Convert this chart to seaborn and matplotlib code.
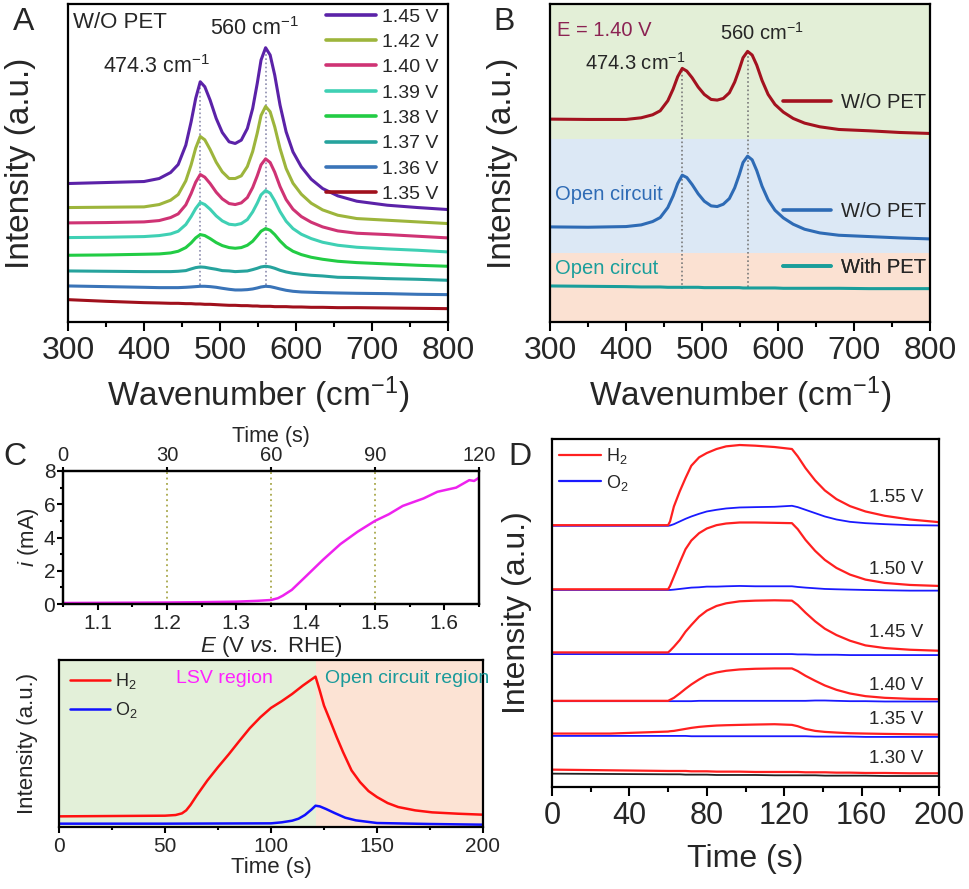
import numpy as np
import pandas as pd
import matplotlib
matplotlib.use("Agg")
import matplotlib.pyplot as plt
import seaborn as sns
from matplotlib.lines import Line2D
from matplotlib.ticker import MultipleLocator

sns.set_style("ticks")
plt.rcParams['font.family'] = ['Liberation Sans', 'DejaVu Sans']
plt.rcParams['mathtext.fontset'] = 'custom'
plt.rcParams['mathtext.rm'] = 'Liberation Sans'
plt.rcParams['mathtext.it'] = 'Liberation Sans:italic'
plt.rcParams['axes.linewidth'] = 1.6
plt.rcParams['axes.edgecolor'] = 'black'

# ---------------- Panel A data ----------------
wavenumber = [300, 350, 400, 420, 435, 445, 455, 462, 468, 474, 480, 487, 495, 503, 512, 520, 528, 536,
              543, 549, 554, 560, 566, 572, 579, 587, 596, 607, 620, 635, 655, 680, 720, 760, 800]
potentials_A = ["1.45 V", "1.42 V", "1.40 V", "1.39 V", "1.38 V", "1.37 V", "1.36 V", "1.35 V"]
colors_A = ["#5b22a8", "#9db53c", "#cf3374", "#3fd0b4", "#22cc44", "#26a39d", "#3a74b8", "#a0101c"]
int_145 = [415, 418, 421, 430, 448, 472, 530, 600, 670, 720, 705, 665, 610, 568, 540, 535, 545, 580,
           640, 715, 785, 822, 800, 740, 650, 570, 510, 465, 428, 400, 378, 362, 350, 343, 337]
int_142 = [343, 344, 345, 352, 365, 382, 423, 471, 521, 556, 546, 517, 479, 450, 430, 430, 438, 466,
           511, 566, 619, 646, 630, 585, 520, 460, 416, 383, 356, 336, 320, 310, 305, 300, 295]
int_140 = [297, 298, 300, 304, 313, 324, 351, 385, 419, 442, 434, 415, 389, 369, 355, 352, 357, 373,
           403, 438, 471, 489, 478, 449, 406, 367, 338, 316, 299, 285, 273, 266, 262, 257, 252]
int_139 = [253, 254, 256, 259, 264, 272, 292, 316, 340, 358, 352, 338, 318, 303, 293, 291, 295, 307,
           330, 356, 381, 394, 386, 363, 331, 302, 280, 263, 250, 239, 230, 224, 219, 215, 210]
int_138 = [200, 201, 203, 204, 207, 212, 223, 237, 252, 262, 259, 250, 238, 229, 223, 221, 223, 230,
           242, 258, 272, 280, 275, 262, 243, 225, 212, 202, 194, 188, 182, 178, 174, 170, 167]
int_137 = [153, 152, 151, 151, 151, 152, 154, 159, 163, 165, 164, 161, 158, 154, 153, 151, 152, 153,
           157, 161, 165, 167, 165, 161, 155, 150, 146, 143, 140, 138, 134, 133, 130, 128, 125]
int_136 = [108, 106, 104, 103, 103, 103, 104, 105, 106, 107, 107, 106, 104, 101, 98, 96, 96, 97,
           99, 102, 105, 107, 106, 103, 99, 95, 92, 90, 89, 88, 87, 86, 85, 83, 82]
int_135 = [67, 62, 58, 57, 56, 56, 55, 55, 54, 54, 53, 53, 52, 51, 50, 50, 49, 49,
           48, 48, 47, 47, 47, 46, 46, 46, 45, 45, 44, 44, 43, 43, 42, 41, 40]
peaks = [474.3, 560]
peak_line_bottom_A = [110, 110]
peak_line_top_A = [718, 820]

# ---------------- Panel B data ----------------
series_B = ["W/O PET (E=1.40 V)", "W/O PET (open circuit)", "With PET (open circuit)"]
colors_B = ["#a3121f", "#2e6bb5", "#1a9e9b"]
labels_B = ["W/O PET", "W/O PET", "With PET"]
int_B_red = [608, 607, 607, 612, 621, 633, 663, 698, 735, 760, 752, 732, 704, 682, 667, 665, 670, 687,
             719, 757, 792, 811, 800, 770, 724, 682, 652, 629, 610, 596, 585, 577, 573, 568, 565]
int_B_blue = [285, 284, 286, 291, 301, 313, 343, 378, 415, 440, 433, 412, 384, 362, 348, 346, 353, 370,
              402, 441, 478, 497, 486, 454, 407, 366, 335, 312, 293, 278, 267, 260, 256, 252, 249]
int_B_teal = [108, 107, 106, 105, 105, 105, 104, 104, 104, 104, 104, 104, 104, 103, 103, 103, 103, 103,
              103, 103, 102, 102, 102, 102, 102, 102, 102, 101, 101, 101, 101, 101, 100, 100, 100]
band_edges_B = [0, 208, 547, 953]
band_colors_B = ["#fbe1d2", "#dce8f5", "#e3efd7"]
peak_line_bottom_B = [100, 105]
peak_line_top_B = [760, 811]

# ---------------- Panel C data ----------------
E_lsv = [1.05, 1.10, 1.15, 1.20, 1.25, 1.30, 1.33, 1.35, 1.36, 1.367, 1.38, 1.39, 1.40, 1.425,
         1.45, 1.475, 1.50, 1.52, 1.54, 1.57, 1.59, 1.617, 1.636, 1.643, 1.65]
i_lsv = [0.06, 0.07, 0.08, 0.09, 0.11, 0.14, 0.19, 0.24, 0.35, 0.5, 0.85, 1.25, 1.65, 2.66,
         3.6, 4.35, 5.0, 5.4, 5.9, 6.35, 6.75, 7.0, 7.45, 7.4, 7.6]
E_return = [1.35, 1.65, 1.65]
i_return = [0.0, 0.0, 7.6]
E_marks = [1.2, 1.35, 1.5]

t_C_H2 = [0, 50, 55, 58, 60, 62, 65, 70, 75, 80, 85, 90, 95, 100, 105, 110, 115, 121,
          123, 125, 128, 131, 134, 138, 142, 146, 150, 155, 160, 168, 176, 188, 200]
H2_C = [32, 34, 36, 41, 50, 66, 95, 140, 180, 218, 258, 297, 330, 358, 378, 400, 425, 452,
        410, 365, 318, 270, 225, 170, 135, 108, 90, 72, 60, 50, 44, 40, 37]
t_C_O2 = [0, 50, 100, 105, 110, 113, 116, 119, 121, 123, 126, 130, 135, 140, 150, 175, 200]
O2_C = [10, 10, 11, 14, 19, 25, 36, 52, 64, 62, 54, 42, 28, 20, 12, 9, 7]
region_edges_C = [0, 121, 200]
region_colors_C = ["#e3f0d9", "#fce3d4"]

# ---------------- Panel D data ----------------
t_D = [0, 30, 60, 61, 63, 66, 69, 72, 76, 80, 85, 90, 97, 105, 115, 124,
       127, 131, 136, 141, 147, 154, 162, 172, 185, 200]
H2_155 = [784, 784, 784, 795, 840, 885, 925, 962, 987, 1000, 1012, 1020, 1024, 1022, 1018, 1012,
          990, 955, 918, 888, 862, 841, 825, 812, 801, 793]
O2_155 = [782, 782, 782, 783, 787, 795, 803, 810, 818, 825, 830, 834, 837, 838, 839, 842,
          838, 830, 820, 810, 801, 794, 790, 787, 784, 783]
H2_150 = [592, 592, 592, 602, 630, 672, 712, 738, 760, 774, 784, 789, 792, 792, 791, 790,
          772, 740, 707, 680, 656, 636, 621, 611, 605, 602]
O2_150 = [590, 590, 590, 590, 591, 593, 595, 597, 598, 600, 600, 601, 602, 601, 601, 601,
          599, 597, 595, 593, 592, 591, 590, 589, 588, 588]
H2_145 = [403, 403, 403, 408, 420, 440, 465, 485, 510, 528, 542, 550, 556, 558, 559, 558,
          545, 522, 496, 474, 455, 438, 424, 416, 411, 408]
O2_145 = [398, 398, 398, 398, 398, 398, 398, 398, 398, 398, 398, 398, 398, 398, 398, 398,
          397, 397, 396, 396, 396, 395, 395, 395, 395, 395]
H2_140 = [258, 258, 258, 261, 267, 280, 294, 307, 322, 335, 343, 348, 352, 354, 355, 355,
          347, 333, 318, 304, 291, 280, 272, 267, 264, 263]
O2_140 = [257, 257, 257, 257, 257, 257, 257, 257, 258, 258, 258, 258, 258, 258, 258, 258,
          258, 258, 259, 259, 258, 257, 257, 256, 256, 256]
H2_135 = [160, 160, 166, 167, 168, 171, 174, 177, 180, 182, 184, 185, 186, 187, 188, 186,
          182, 174, 168, 165, 163, 161, 160, 159, 158, 157]
O2_135 = [153, 153, 153, 153, 153, 153, 153, 152, 152, 152, 152, 152, 152, 152, 152, 152,
          152, 152, 151, 151, 151, 151, 150, 150, 150, 150]
H2_130 = [52, 50, 48, 48, 48, 48, 48, 47, 47, 47, 46, 46, 46, 45, 45, 45,
          45, 44, 44, 44, 43, 43, 42, 42, 41, 41]
BG_130 = [40, 39, 38, 38, 38, 38, 37, 37, 37, 37, 36, 36, 36, 36, 35, 35,
          35, 35, 35, 34, 34, 34, 34, 33, 33, 33]
potentials_D = ["1.55 V", "1.50 V", "1.45 V", "1.40 V", "1.35 V", "1.30 V"]
label_y_D = [0.833, 0.624, 0.443, 0.293, 0.195, 0.083]

# ---------------- Figure ----------------
W, H = 969, 889
fig = plt.figure(figsize=(W / 100, H / 100), dpi=100)


def rect(l, t, r, b):
    return [l / W, 1 - b / H, (r - l) / W, (b - t) / H]


def style_ticks(ax, which_axis, labelsize, major_len=6, minor_len=3):
    ax.tick_params(axis=which_axis, which='major', direction='out', length=major_len, width=1.5,
                   labelsize=labelsize, color='black')
    ax.tick_params(axis=which_axis, which='minor', direction='out', length=minor_len, width=1.5,
                   color='black')


# ---------- Panel A ----------
axA = fig.add_axes(rect(68, 4, 448, 322))
A_vals = [int_145, int_142, int_140, int_139, int_138, int_137, int_136, int_135]
dfA = pd.concat([pd.DataFrame({"wn": wavenumber, "I": v, "V": p}) for v, p in zip(A_vals, potentials_A)])
axA.vlines(peaks, peak_line_bottom_A, peak_line_top_A, colors="#8c8cae", linestyles=(0, (1, 1.5)), lw=1.2, zorder=1)
sns.lineplot(data=dfA[::-1], x="wn", y="I", hue="V", hue_order=potentials_A,
             palette=dict(zip(potentials_A, colors_A)), estimator=None, sort=False,
             lw=2.2, ax=axA, legend=False)
axA.set_xlim(300, 800)
axA.set_ylim(0, 953)
axA.set_yticks([])
axA.xaxis.set_major_locator(MultipleLocator(100))
axA.xaxis.set_minor_locator(MultipleLocator(50))
style_ticks(axA, 'x', 23, major_len=6.5, minor_len=3.5)
axA.set_xlabel("Wavenumber (cm$^{-1}$)", fontsize=24)
axA.set_ylabel("Intensity (a.u.)", fontsize=24)
axA.yaxis.set_label_coords(-0.085, 0.5)
axA.xaxis.set_label_coords(0.5, -0.165)
hA = [Line2D([], [], color=c, lw=2.6) for c in colors_A]
axA.legend(hA, potentials_A, loc="upper right", bbox_to_anchor=(0.985, 1.0), frameon=False,
           fontsize=14, handlelength=2.6, handletextpad=0.3, labelspacing=0.4,
           borderpad=0.2, borderaxespad=0.0)
axA.text(0.013, 0.975, "W/O PET", transform=axA.transAxes, fontsize=16, ha="left", va="top")
axA.text(0.092, 0.783, "474.3 cm$^{-1}$", transform=axA.transAxes, fontsize=15.5, ha="left", va="baseline")
axA.text(0.374, 0.903, "560 cm$^{-1}$", transform=axA.transAxes, fontsize=15.5, ha="left", va="baseline")
fig.text(13 / W, 1 - 30 / H, "A", fontsize=23, ha="left", va="baseline")

# ---------- Panel B ----------
axB = fig.add_axes(rect(550, 4, 930, 322))
for lo, hi, c in zip(band_edges_B[:-1], band_edges_B[1:], band_colors_B):
    axB.axhspan(lo, hi, color=c, lw=0, zorder=0)
dfB = pd.concat([pd.DataFrame({"wn": wavenumber, "I": v, "S": s})
                 for v, s in zip([int_B_red, int_B_blue, int_B_teal], series_B)])
axB.vlines(peaks, peak_line_bottom_B, peak_line_top_B, colors="#7a7a7a", linestyles=(0, (1, 1.5)), lw=1.2, zorder=1)
sns.lineplot(data=dfB, x="wn", y="I", hue="S", hue_order=series_B,
             palette=dict(zip(series_B, colors_B)), estimator=None, sort=False,
             lw=2.2, ax=axB, legend=False)
axB.set_xlim(300, 800)
axB.set_ylim(0, 953)
axB.set_yticks([])
axB.xaxis.set_major_locator(MultipleLocator(100))
axB.xaxis.set_minor_locator(MultipleLocator(50))
style_ticks(axB, 'x', 23, major_len=6.5, minor_len=3.5)
axB.set_xlabel("Wavenumber (cm$^{-1}$)", fontsize=24)
axB.set_ylabel("Intensity (a.u.)", fontsize=24)
axB.yaxis.set_label_coords(-0.085, 0.5)
axB.xaxis.set_label_coords(0.5, -0.165)
leg_y_B = [0.689, 0.346, 0.170]
for c, lab, yy in zip(colors_B, labels_B, leg_y_B):
    lg = axB.legend([Line2D([], [], color=c, lw=2.6)], [lab], loc="center right",
                    bbox_to_anchor=(0.99, yy), frameon=False, fontsize=14.5,
                    handlelength=2.4, handletextpad=0.5, borderpad=0, borderaxespad=0)
    axB.add_artist(lg)
axB.text(0.018, 0.9, "E = 1.40 V", transform=axB.transAxes, fontsize=14.5, color="#8b2252", ha="left", va="baseline")
axB.text(0.092, 0.793, "474.3 cm$^{-1}$", transform=axB.transAxes, fontsize=14.5, ha="left", va="baseline")
axB.text(0.447, 0.887, "560 cm$^{-1}$", transform=axB.transAxes, fontsize=14.5, ha="left", va="baseline")
axB.text(0.013, 0.385, "Open circuit", transform=axB.transAxes, fontsize=14.5, color="#2e6bb5", ha="left", va="baseline")
axB.text(0.013, 0.15, "Open circut", transform=axB.transAxes, fontsize=14.5, color="#1a9e9b", ha="left", va="baseline")
fig.text(493 / W, 1 - 30 / H, "B", fontsize=23, ha="left", va="baseline")

# ---------- Panel C (top) ----------
axC = fig.add_axes(rect(63, 471, 479, 604))
axC.vlines(E_marks, 0, 8, colors="#a8a84a", linestyles=(0, (1, 2)), lw=1.3, zorder=1)
sns.lineplot(x=E_return, y=i_return, color="#2020e0", lw=1.2, estimator=None, sort=False, ax=axC)
sns.lineplot(x=E_lsv, y=i_lsv, color="#ee22ee", lw=1.8, estimator=None, sort=False, ax=axC)
axC.set_xlim(1.05, 1.65)
axC.set_ylim(0, 8)
axC.xaxis.set_minor_locator(MultipleLocator(0.05))
axC.yaxis.set_major_locator(MultipleLocator(2))
axC.yaxis.set_minor_locator(MultipleLocator(1))
axC.set_xticks([1.1, 1.2, 1.3, 1.4, 1.5, 1.6])
axC.set_xticklabels(["1.1", "1.2", "1.3", "1.4", "1.5", "1.6"])
style_ticks(axC, 'x', 15, major_len=4, minor_len=2.5)
style_ticks(axC, 'y', 15, major_len=4, minor_len=2.5)
axC.tick_params(axis='x', pad=3)
axC.tick_params(axis='y', pad=1.5)
axC.set_xlabel("$E$ (V $vs.$ RHE)", fontsize=16, labelpad=1)
axC.set_ylabel("$i$ (mA)", fontsize=16, labelpad=2)
axCt = axC.twiny()
axCt.set_xlim(0, 120)
axCt.set_xticks([0, 30, 60, 90, 120])
style_ticks(axCt, 'x', 14.5, major_len=3, minor_len=2)
axCt.tick_params(axis='x', pad=1.5)
axCt.set_xlabel("Time (s)", fontsize=15.5, labelpad=2.5)
fig.text(3 / W, 1 - 465 / H, "C", fontsize=23, ha="left", va="baseline")

# ---------- Panel C (bottom) ----------
axC2 = fig.add_axes(rect(59, 660, 483, 827))
for lo, hi, c in zip(region_edges_C[:-1], region_edges_C[1:], region_colors_C):
    axC2.axvspan(lo, hi, color=c, lw=0, zorder=0)
sns.lineplot(x=t_C_H2, y=H2_C, color="#ff1010", lw=1.8, estimator=None, sort=False, ax=axC2)
sns.lineplot(x=t_C_O2, y=O2_C, color="#1010ff", lw=1.8, estimator=None, sort=False, ax=axC2)
axC2.set_xlim(0, 200)
axC2.set_ylim(0, 502)
axC2.set_yticks([])
axC2.xaxis.set_major_locator(MultipleLocator(50))
axC2.xaxis.set_minor_locator(MultipleLocator(25))
style_ticks(axC2, 'x', 15, major_len=4, minor_len=2.5)
axC2.tick_params(axis='x', pad=3)
axC2.set_xlabel("Time (s)", fontsize=16, labelpad=1)
axC2.set_ylabel("Intensity (a.u.)", fontsize=16)
axC2.yaxis.set_label_coords(-0.05, 0.5)
hC = [Line2D([], [], color="#ff1010", lw=1.8), Line2D([], [], color="#1010ff", lw=1.8)]
axC2.legend(hC, ["H$_2$", "O$_2$"], loc="upper left", bbox_to_anchor=(0.0, 1.0), frameon=False,
            fontsize=13, handlelength=2.2, handletextpad=0.3, labelspacing=0.5,
            borderpad=0.4, borderaxespad=0.2)
axC2.text(0.275, 0.86, "LSV region", transform=axC2.transAxes, fontsize=14, color="#ff22ff", ha="left", va="baseline")
axC2.text(0.627, 0.86, "Open circuit region", transform=axC2.transAxes, fontsize=14, color="#1a9a9a", ha="left", va="baseline")

# ---------- Panel D ----------
axD = fig.add_axes(rect(552, 439, 939, 787))
pairs = [(H2_155, O2_155), (H2_150, O2_150), (H2_145, O2_145), (H2_140, O2_140), (H2_135, O2_135)]
for h2, o2 in pairs:
    sns.lineplot(x=t_D, y=o2, color="#1a1aff", lw=1.3, estimator=None, sort=False, ax=axD)
    sns.lineplot(x=t_D, y=h2, color="#ff2020", lw=1.6, estimator=None, sort=False, ax=axD)
sns.lineplot(x=t_D, y=BG_130, color="#202020", lw=1.3, estimator=None, sort=False, ax=axD)
sns.lineplot(x=t_D, y=H2_130, color="#ff2020", lw=1.6, estimator=None, sort=False, ax=axD)
axD.set_xlim(0, 200)
axD.set_ylim(0, 1042)
axD.set_yticks([])
axD.xaxis.set_major_locator(MultipleLocator(40))
axD.xaxis.set_minor_locator(MultipleLocator(20))
style_ticks(axD, 'x', 22, major_len=6.5, minor_len=3.5)
axD.set_xlabel("Time (s)", fontsize=23)
axD.set_ylabel("Intensity (a.u.)", fontsize=23)
axD.yaxis.set_label_coords(-0.052, 0.5)
axD.xaxis.set_label_coords(0.5, -0.165)
hD = [Line2D([], [], color="#ff2020", lw=1.6), Line2D([], [], color="#1a1aff", lw=1.6)]
axD.legend(hD, ["H$_2$", "O$_2$"], loc="upper left", bbox_to_anchor=(0.0, 1.0), frameon=False,
           fontsize=13, handlelength=2.3, handletextpad=0.3, labelspacing=0.35,
           borderpad=0.3, borderaxespad=0.1)
for lab, yy in zip(potentials_D, label_y_D):
    axD.text(0.959, yy, lab, transform=axD.transAxes, fontsize=13.5, ha="right", va="center")
fig.text(508 / W, 1 - 465 / H, "D", fontsize=23, ha="left", va="baseline")

fig.savefig("out.png", dpi=100)
